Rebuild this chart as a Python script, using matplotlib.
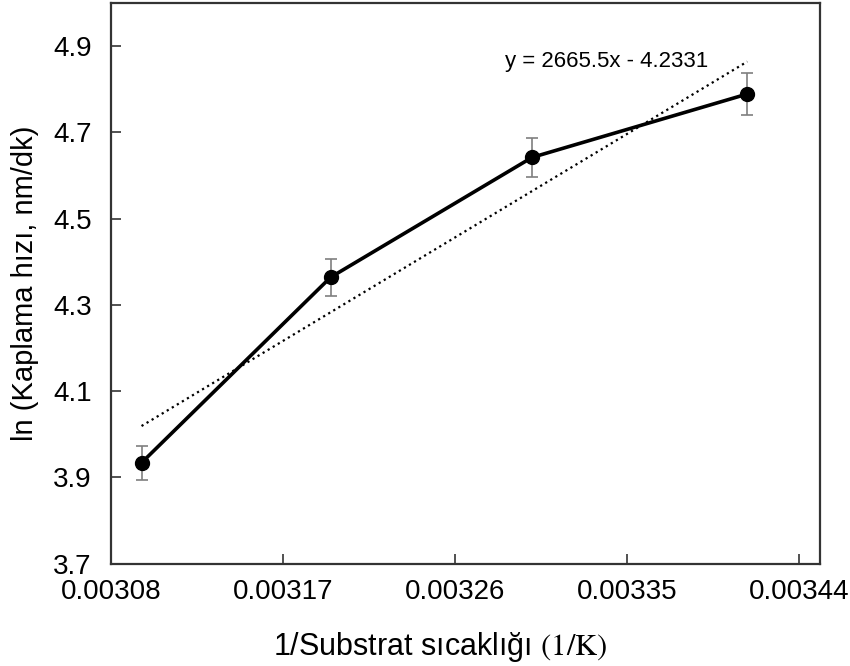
import matplotlib
matplotlib.use('Agg')
import matplotlib.pyplot as plt
import numpy as np

# data
inv_T = [1/323, 1/313, 1/303, 1/293]
ln_rate = [3.934, 4.364, 4.642, 4.789]
ln_err = [0.040, 0.043, 0.046, 0.049]
slope, intercept = 2665.5, -4.2331
x_ticks = [0.00308, 0.00317, 0.00326, 0.00335, 0.00344]
y_ticks = [3.7, 3.9, 4.1, 4.3, 4.5, 4.7, 4.9]

plt.rcParams['font.family'] = ['Liberation Sans', 'DejaVu Sans']
plt.rcParams['mathtext.fontset'] = 'stix'

fig = plt.figure(figsize=(8.5, 6.66), dpi=100)
ax = fig.add_axes([0.1306, 0.1536, 0.8341, 0.8419])

ax.errorbar(inv_T, ln_rate, yerr=ln_err, fmt='none', ecolor='#7f7f7f',
            elinewidth=1.2, capsize=4, capthick=1.2, zorder=2)
ax.plot(inv_T, ln_rate, color='black', lw=2.6, marker='o', ms=10, zorder=3)

xt = np.array([inv_T[0], inv_T[-1]])
ax.plot(xt, slope*xt + intercept, color='black', lw=1.6, ls=':', zorder=2)
ax.text(0.0033395, 4.864, 'y = 2665.5x - 4.2331', fontsize=16,
        ha='center', va='center')

ax.set_xlim(0.00308, 0.003451)
ax.set_ylim(3.7, 5.0)
ax.set_xticks(x_ticks)
ax.set_xticklabels(['%.5f' % v for v in x_ticks])
ax.set_yticks(y_ticks)
ax.set_yticklabels(['%.1f' % v for v in y_ticks])
ax.tick_params(direction='in', length=7, width=1.2, color='#333333',
               labelsize=20)
ax.tick_params(axis='x', pad=11)
ax.tick_params(axis='y', pad=14)
for s in ax.spines.values():
    s.set_linewidth(1.6)
    s.set_color('#333333')

ax.set_xlabel(r'1/Substrat sıcaklığı $(1/\mathrm{K})$', fontsize=22)
ax.xaxis.set_label_coords(0.464, -0.118)
ax.set_ylabel('ln (Kaplama hızı, nm/dk)', fontsize=21, labelpad=10)

fig.savefig('out.png', dpi=100)
